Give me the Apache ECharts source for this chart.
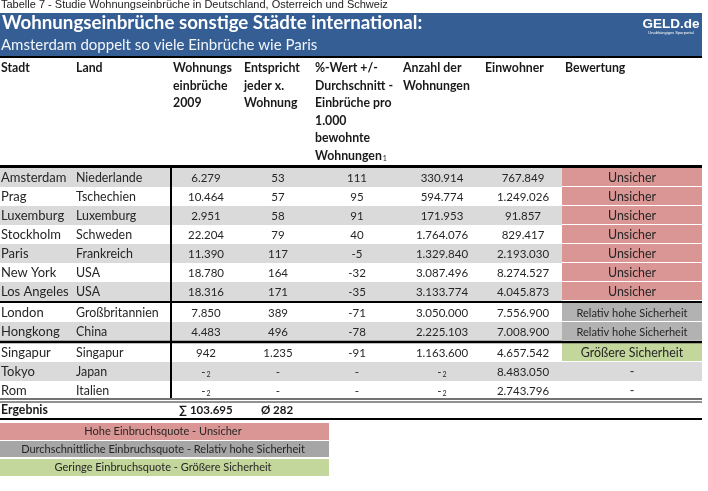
<!DOCTYPE html>
<html><head><meta charset="utf-8">
<style>html,body{margin:0;padding:0;background:#fff}#c{width:708px;height:491px}</style>
<script src="https://cdn.jsdelivr.net/npm/echarts@6/dist/echarts.min.js"></script>
</head><body><div id="c"></div>
<script>
const topNote = 'Tabelle 7 - Studie Wohnungseinbrüche in Deutschland, Österreich und Schweiz';
const mainTitle = 'Wohnungseinbrüche sonstige Städte international:';
const subTitle = 'Amsterdam doppelt so viele Einbrüche wie Paris';
const columnHeads = [
  ['Stadt'], ['Land'], ['Wohnungs','einbrüche','2009'], ['Entspricht','jeder x.','Wohnung'],
  ['%-Wert +/-','Durchschnitt -','Einbrüche pro','1.000','bewohnte','Wohnungen{s|1}'],
  ['Anzahl der','Wohnungen'], ['Einwohner'], ['Bewertung']
];
const cities = ['Amsterdam','Prag','Luxemburg','Stockholm','Paris','New York','Los Angeles','London','Hongkong','Singapur','Tokyo','Rom'];
const countries = ['Niederlande','Tschechien','Luxemburg','Schweden','Frankreich','USA','USA','Großbritannien','China','Singapur','Japan','Italien'];
const burglaries = ['6.279','10.464','2.951','22.204','11.390','18.780','18.316','7.850','4.483','942','-{s|2}','-{s|2}'];
const everyNth = ['53','57','58','79','117','164','171','389','496','1.235','-','-'];
const pctDiff = ['111','95','91','40','-5','-32','-35','-71','-78','-91','-','-'];
const dwellings = ['330.914','594.774','171.953','1.764.076','1.329.840','3.087.496','3.133.774','3.050.000','2.225.103','1.163.600','-{s|2}','-{s|2}'];
const residents = ['767.849','1.249.026','91.857','829.417','2.193.030','8.274.527','4.045.873','7.556.900','7.008.900','4.657.542','8.483.050','2.743.796'];
const ratings = ['Unsicher','Unsicher','Unsicher','Unsicher','Unsicher','Unsicher','Unsicher','Relativ hohe Sicherheit','Relativ hohe Sicherheit','Größere Sicherheit','-','-'];
const totalRow = ['Ergebnis','∑ 103.695','Ø 282'];
const legendTexts = ['Hohe Einbruchsquote - Unsicher','Durchschnittliche Einbruchsquote - Relativ hohe Sicherheit','Geringe Einbruchsquote - Größere Sicherheit'];

// layout + styling
const rowTops = [168,187,206,225,244,263,282,303,322,343,362,381];
const rowH = 19;
const colLeft = [1,76,173,244,315,403,485,565];
const colMid = {burg:206, nth:278, pct:357, dw:442, res:523, rate:632};
const C = {band:'#dadada', head:'#355e94', red:'#d99694', grey:'#b2b2b2', green:'#c3d69b', legGrey:'#a6a6a6', ink:'#262626'};
const rateColor = {'Unsicher':C.red,'Relativ hohe Sicherheit':C.grey,'Größere Sicherheit':C.green};
const FONT = 'Lato';

const rects = [[0,13,702,56,C.head]];
cities.forEach((_,i)=>{
  const t=rowTops[i];
  const h = i===11 ? 17 : rowH;
  if(i%2===0 && i<7 || i===8 || i===10) rects.push([0,t,i===10?702:562,t+h,C.band]);
  if(rateColor[ratings[i]]) rects.push([562,t,702,t+h-1,rateColor[ratings[i]]]);
});
[[423,440,C.red],[441,457,C.legGrey],[459,476,C.green]].forEach(a=>rects.push([0,a[0],329,a[1],a[2]]));

const rules = [
  [0,57,702,57,2,'#000'],[0,166.5,702,166.5,3,'#000'],[171,166,171,398,2,'#000'],
  [0,302,702,302,2,'#000'],[0,342,702,342,2.5,'#000'],
  [0,399,702,399,1.5,'#444'],[0,402,702,402,1,'#222'],[0,419,702,419,2,'#000']
];

const texts = [];
const T=(x,y,s,align,st)=>texts.push([x,y,s,align,st]);
columnHeads.forEach((ls,c)=>ls.forEach((s,l)=>T(colLeft[c],68+l*17.6,s,'left','bold')));
cities.forEach((_,i)=>{
  const y=rowTops[i]+10;
  T(1,y,cities[i],'left','city');
  T(76,y,countries[i],'left','land');
  T(colMid.burg,y,burglaries[i],'center','cell');
  T(colMid.nth,y,everyNth[i],'center','cell');
  T(colMid.pct,y,pctDiff[i],'center','cell');
  T(colMid.dw,y,dwellings[i],'center','cell');
  T(colMid.res,y,residents[i],'center','cell');
  T(colMid.rate,y,ratings[i],'center',i===7||i===8?'small':'land');
});
T(1,410,totalRow[0],'left','bold');
T(colMid.burg,410,totalRow[1],'center','boldNum');
T(277,410,totalRow[2],'center','boldNum');
[431,449,467].forEach((y,i)=>T(163,y,legendTexts[i],'center','small'));
T(671,24,'GELD.de','center','logo');
T(671,33,'Unabhängiges Sparportal','center','tiny');

const styles = {
  bold:{fontWeight:'bold',fontSize:12.3,fill:'#1a1a1a'},
  boldNum:{fontWeight:'bold',fontSize:11.5,fill:'#1a1a1a'},
  city:{fontSize:13,fill:C.ink},
  land:{fontSize:12.4,fill:C.ink},
  cell:{fontSize:11.5,fill:C.ink},
  small:{fontSize:11,fill:C.ink},
  logo:{fontWeight:'bold',fontSize:13.5,fill:'#fff',fontFamily:'Liberation Sans'},
  tiny:{fontSize:4,fill:'#fff',fontFamily:'Liberation Sans'}
};
const rich={s:{fontSize:7,fill:C.ink,fontFamily:FONT,padding:[5,0,0,1]}};

const chart = echarts.init(document.getElementById('c'),null,{renderer:'canvas'});
chart.setOption({
  animation:false,
  backgroundColor:'#fff',
  title:[
    {text:topNote,left:1,top:-1,padding:0,textStyle:{fontSize:11,fontWeight:'normal',color:'#222',fontFamily:'Liberation Sans'}},
    {text:mainTitle,left:2,top:13,padding:0,textStyle:{fontSize:18.7,fontWeight:'bold',color:'#fff',fontFamily:FONT}},
    {text:subTitle,left:1,top:38,padding:0,textStyle:{fontSize:15,fontWeight:'normal',color:'#f2f5fa',fontFamily:FONT}}
  ],
  grid:{left:0,right:0,top:0,bottom:0},
  xAxis:{type:'value',min:0,max:708,show:false},
  yAxis:{type:'value',min:0,max:491,inverse:true,show:false},
  series:[
    {type:'custom',coordinateSystem:'cartesian2d',silent:true,clip:false,z:1,data:rects,
     encode:{x:[0,2],y:[1,3]},
     renderItem(p,api){
       const a=api.coord([api.value(0),api.value(1)]),b=api.coord([api.value(2),api.value(3)]);
       return {type:'rect',shape:{x:a[0],y:a[1],width:b[0]-a[0],height:b[1]-a[1]},style:{fill:rects[p.dataIndex][4]}};
     }},
    {type:'custom',coordinateSystem:'cartesian2d',silent:true,clip:false,z:2,data:rules,
     encode:{x:[0,2],y:[1,3]},
     renderItem(p,api){
       const a=api.coord([api.value(0),api.value(1)]),b=api.coord([api.value(2),api.value(3)]),r=rules[p.dataIndex];
       return {type:'line',shape:{x1:a[0],y1:a[1],x2:b[0],y2:b[1]},style:{stroke:r[5],lineWidth:r[4]}};
     }},
    {type:'custom',coordinateSystem:'cartesian2d',silent:true,clip:false,z:3,data:texts.map(t=>[t[0],t[1]]),
     encode:{x:0,y:1},
     renderItem(p,api){
       const t=texts[p.dataIndex],a=api.coord([api.value(0),api.value(1)]);
       return {type:'text',x:a[0],y:a[1],style:Object.assign({text:t[2],textAlign:t[3],textVerticalAlign:'middle',fontFamily:FONT,rich},styles[t[4]])};
     }}
  ]
});
</script></body></html>
